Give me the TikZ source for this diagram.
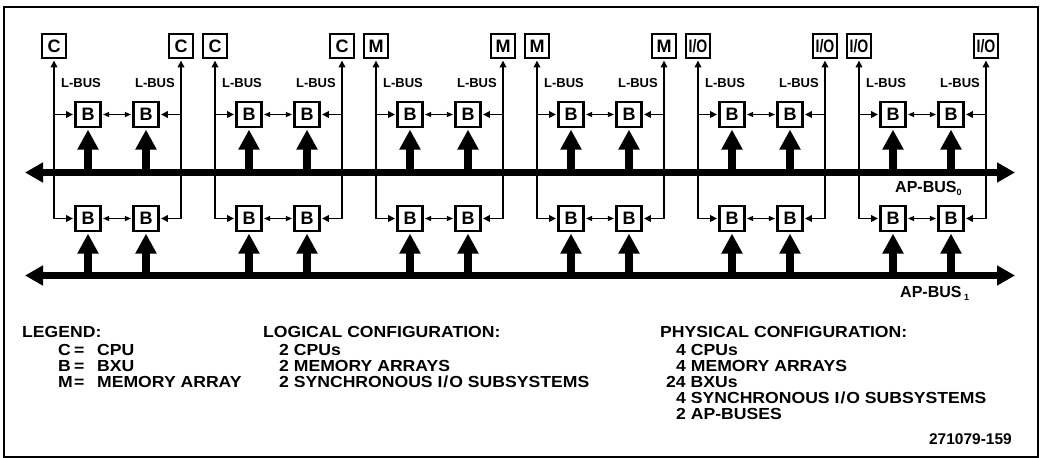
\documentclass[tikz,border=0pt]{standalone}
\usepackage{graphicx}
\usepackage{fontspec}
\setmainfont{Liberation Sans}
\newfontfamily\legfont[FakeStretch=1.1]{Liberation Sans}
\usetikzlibrary{arrows.meta}
\newcommand{\iolabel}{\scalebox{0.78}[1]{I/O}}
\newcommand{\slio}{I\kern1pt/\kern1pt O}
\tikzset{
 unitbox/.style={draw, line width=2.5pt, minimum size=24pt, inner sep=0pt, font=\fontsize{18}{18}\selectfont\bfseries},
 bxu/.style={unitbox, minimum size=25pt},
 lbusline/.style={-{Triangle[length=7pt,width=6.5pt]}, line width=1.9pt, shorten >=1.2pt},
 bxlink/.style={{Triangle[length=6pt,width=5pt]}-{Triangle[length=6pt,width=5pt]}, line width=1.2pt, shorten <=1.3pt, shorten >=1.3pt},
 feed/.style={-{Triangle[length=20pt,width=20pt]}, line width=8pt, shorten >=1.3pt},
 apbus/.style={{Triangle[length=18pt,width=19pt]}-{Triangle[length=18pt,width=19pt]}, line width=7pt},
 lbl/.style={font=\fontsize{13}{13}\selectfont\bfseries, inner sep=0pt, anchor=base west},
 aplbl/.style={font=\fontsize{16}{16}\selectfont\bfseries, inner sep=0pt, anchor=base west},
 leg/.style={font=\legfont\bfseries\fontsize{16}{16}\selectfont, inner sep=0pt, anchor=base west},
}
\begin{document}
\begin{tikzpicture}[x=1pt,y=-1pt]
\useasboundingbox (0,0) rectangle (1042,458);
\draw[line width=2pt] (4,7) rectangle (1038,457);
% buses
\coordinate (bus0w) at (25,172.5);
\coordinate (bus0e) at (1015,172.5);
\coordinate (bus1w) at (25,275.5);
\coordinate (bus1e) at (1015,275.5);
\draw[apbus] (bus0w) -- (bus0e);
\draw[apbus] (bus1w) -- (bus1e);
\node[aplbl] (ap0) at (895,192) {AP-BUS\raisebox{-3pt}{\fontsize{9}{9}\selectfont 0}};
\node[aplbl] (ap1) at (900,297) {AP-BUS\,\raisebox{-3pt}{\fontsize{9}{9}\selectfont 1}};
% groups
\foreach \i/\t in {0/C,1/C,2/M,3/M,4/{\iolabel},5/{\iolabel}}{
  \pgfmathsetmacro\L{54+161*\i}
  \pgfmathsetmacro\R{\L+127}
  \node[unitbox] (tl\i) at (\L,46) {\t};
  \node[unitbox] (tr\i) at (\R,46) {\t};
  \node[bxu] (ua\i) at (\L+34,114.5) {B};
  \node[bxu] (ub\i) at (\L+92,114.5) {B};
  \node[bxu] (da\i) at (\L+34,218.5) {B};
  \node[bxu] (db\i) at (\L+92,218.5) {B};
  \coordinate (cl\i) at (\L,218.5);
  \coordinate (cr\i) at (\R,218.5);
  \node[lbl] (ll\i) at (\L+7,87) {L-BUS};
  \node[lbl, anchor=base east] (lr\i) at (\R-6,87) {L-BUS};
  % L-bus lines
  \draw[lbusline] (cl\i) -- (tl\i.south);
  \draw[lbusline] (cr\i) -- (tr\i.south);
  \draw[lbusline] (cl\i |- ua\i) -- (ua\i.west);
  \draw[lbusline] (cl\i) -- (da\i.west);
  \draw[lbusline] (cr\i |- ub\i) -- (ub\i.east);
  \draw[lbusline] (cr\i) -- (db\i.east);
  % links between BXUs
  \draw[bxlink] (ua\i) -- (ub\i);
  \draw[bxlink] (da\i) -- (db\i);
  % feeds from buses
  \draw[feed] (ua\i.south |- bus0w) -- (ua\i.south);
  \draw[feed] (ub\i.south |- bus0w) -- (ub\i.south);
  \draw[feed] (da\i.south |- bus1w) -- (da\i.south);
  \draw[feed] (db\i.south |- bus1w) -- (db\i.south);
}
% legend
\node[leg] (lg0) at (22,337) {LEGEND:};
\node[leg] (lg1) at (58,355) {\makebox[16pt][l]{C}\makebox[23pt][l]{=}CPU};
\node[leg] (lg2) at (58,371) {\makebox[16pt][l]{B}\makebox[23pt][l]{=}BXU};
\node[leg] (lg3) at (58,387) {\makebox[16pt][l]{M}\makebox[23pt][l]{=}MEMORY ARRAY};
\node[leg] (lo0) at (263,337) {LOGICAL CONFIGURATION:};
\node[leg] (lo1) at (279,355) {2 CPUs};
\node[leg] (lo2) at (279,371) {2 MEMORY ARRAYS};
\node[leg] (lo3) at (279,387) {2 SYNCHRONOUS \slio{} SUBSYSTEMS};
\node[leg] (ph0) at (660,337) {PHYSICAL CONFIGURATION:};
\node[leg] (ph1) at (676,355) {4 CPUs};
\node[leg] (ph2) at (676,371) {4 MEMORY ARRAYS};
\node[leg] (ph3) at (666,387) {24 BXUs};
\node[leg] (ph4) at (676,403) {4 SYNCHRONOUS \slio{} SUBSYSTEMS};
\node[leg] (ph5) at (676,419) {2 AP-BUSES};
\node[leg, anchor=base east, font=\bfseries\fontsize{15.5}{15.5}\selectfont] (fig) at (1012,444) {271079-159};
\end{tikzpicture}
\end{document}
